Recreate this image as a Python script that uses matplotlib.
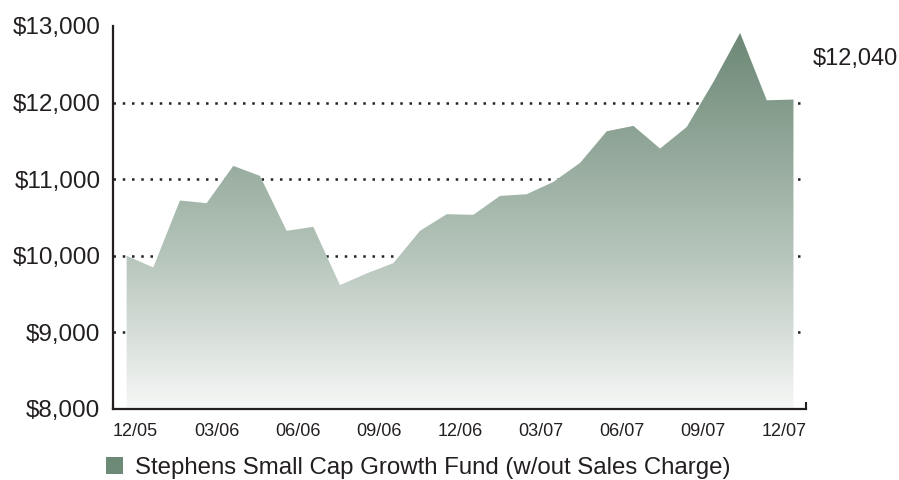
import matplotlib
matplotlib.use('Agg')
import matplotlib.pyplot as plt
import numpy as np
from matplotlib.colors import LinearSegmentedColormap
from matplotlib.patches import Patch

plt.rcParams['font.family'] = ['Liberation Sans', 'DejaVu Sans']

# monthly account values, 26 points
values = [10000, 9848, 10722, 10687, 11174, 11043, 10326, 10378, 9617, 9770,
          9904, 10326, 10543, 10535, 10782, 10804, 10965, 11213, 11626, 11696,
          11400, 11682, 12270, 12909, 12030, 12040]
tick_labels = ['12/05', '03/06', '06/06', '09/06', '12/06', '03/07', '06/07', '09/07', '12/07']
y_ticks = [8000, 9000, 10000, 11000, 12000, 13000]
fund_name = 'Stephens Small Cap Growth Fund (w/out Sales Charge)'
end_label = '$12,040'

x = np.arange(len(values))
xmin, xmax = -0.51, 25.47
ymin, ymax = 8000, 13000

fig = plt.figure(figsize=(8.99, 4.80), dpi=100)
ax = fig.add_axes([113/899, 71/480, 693/899, 383/480])

# dotted gridlines behind the area
for v in y_ticks[1:-1]:
    ax.plot([xmin, xmax], [v, v], color='#222222', lw=1.8,
            linestyle=(0, (1, 2.7)), zorder=1, dash_capstyle='butt')

# gradient filled area
poly = ax.fill_between(x, values, ymin, color='none', lw=0, zorder=2)
cmap = LinearSegmentedColormap.from_list(
    'g', [(0, '#f6f7f6'), (0.4, '#b6c5bb'), (1, '#6a8673')])
grad = np.linspace(0, 1, 256).reshape(-1, 1)
img = ax.imshow(grad, cmap=cmap, origin='lower', aspect='auto',
                extent=[xmin, xmax, ymin, ymax], zorder=2)
img.set_clip_path(poly.get_paths()[0], transform=ax.transData)

ax.set_xlim(xmin, xmax)
ax.set_ylim(ymin, ymax)

for s in ['top', 'right']:
    ax.spines[s].set_visible(False)
for s in ['left', 'bottom']:
    ax.spines[s].set_linewidth(1.6)
    ax.spines[s].set_color('#231f20')
    ax.spines[s].set_zorder(3)

ax.set_yticks(y_ticks)
ax.set_yticklabels(['${:,}'.format(v) for v in y_ticks])
ax.tick_params(axis='y', length=0, pad=9, labelsize=17.5, labelcolor='#231f20')

ax.set_xticks(np.linspace(0.33, 24.66, len(tick_labels)))
ax.set_xticklabels(tick_labels)
ax.tick_params(axis='x', which='major', length=0, pad=10, labelsize=13,
               labelcolor='#231f20')
ax.set_xticks(np.linspace(xmin, xmax, 8), minor=True)
ax.tick_params(axis='x', which='minor', direction='in', length=5, width=1.5,
               color='#231f20')

ax.text(1.01, 0.915, end_label, transform=ax.transAxes, fontsize=17,
        color='#231f20', ha='left', va='center')

fig.legend(handles=[Patch(facecolor='#6d8a77', edgecolor='none')],
           labels=[fund_name], loc='center left',
           bbox_to_anchor=(106/899, 1 - 468/480), frameon=False,
           fontsize=17.3, handlelength=0.72, handleheight=0.72,
           handletextpad=0.5, borderpad=0, borderaxespad=0,
           labelcolor='#231f20')

fig.savefig('out.png', dpi=100)
